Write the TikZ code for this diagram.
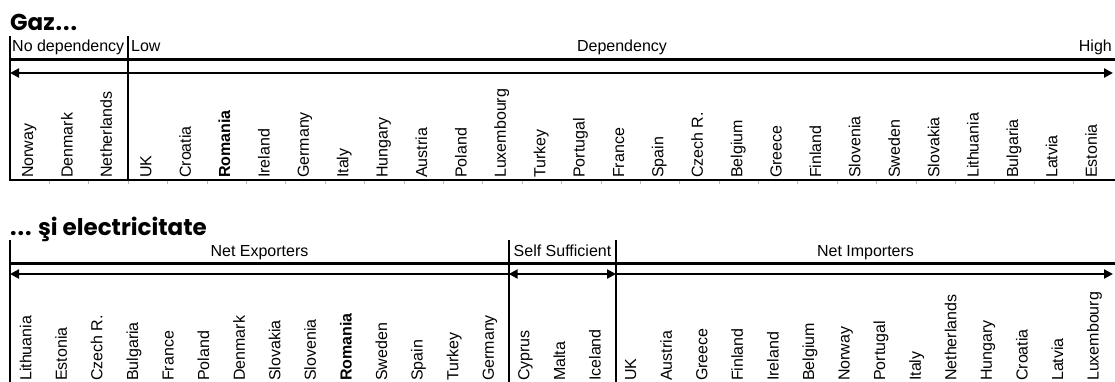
\documentclass[tikz,border=0pt]{standalone}
\usepackage{fontspec}
\setmainfont{Liberation Sans}
\newfontfamily\titlefont{Poppins}
\usetikzlibrary{arrows.meta}
\begin{document}
\begin{tikzpicture}[x=1pt,y=-1pt,
  lbl/.style={font=\fontsize{16}{19}\selectfont, inner sep=0pt},
  cty/.style={lbl, rotate=90, anchor=base west},
  hdr/.style={lbl, anchor=base},
  ttl/.style={font=\titlefont\bfseries\fontsize{23}{27}\selectfont, inner sep=0pt, anchor=base west},
  band/.style={line width=3pt},
  frame/.style={line width=2pt},
  tick/.style={gray!55, line width=0.8pt},
  arr/.style={line width=2.5pt},
  tip/.tip={Triangle[length=9pt,width=9pt]}]
\useasboundingbox (0,0) rectangle (1115,381);
\clip (0,0) rectangle (1115,381);

% ---------- Gaz ----------
\node[ttl] (t1) at (10,30.5) {Gaz{\kern1pt}.{\kern1pt}.{\kern1pt}.};
\coordinate (a1) at (10,36);  \coordinate (a2) at (10,180);
\coordinate (b1) at (128.2,36); \coordinate (b2) at (128.2,180);
\coordinate (h1) at (10,59); \coordinate (h2) at (1115,59);
\coordinate (r1) at (10,73); \coordinate (r2) at (1113,73);
\coordinate (f1) at (9,180); \coordinate (f2) at (1115,180);
\draw[frame] (a1) -- (a2);
\draw[frame] (b1) -- (b2);
\draw[band] (h1) -- (h2);
\draw[arr, tip-tip] (r1) -- (r2);
\draw[frame] (f1) -- (f2);
\foreach \k in {1,...,27} \draw[tick] ({10+39.393*\k},181) -- ++(0,2.5);

\node[hdr, anchor=base west] (nd) at (12,51.5) {No dependency};
\node[hdr, anchor=base west] (lo) at (131,51.5) {Low};
\node[hdr] (dp) at (622,51.5) {Dependency};
\node[hdr, anchor=base east] (hi) at (1112,51.5) {High};

\foreach \name [count=\i from 0] in {Norway,Denmark,Netherlands,UK,Croatia,{\textbf{Romania}},Ireland,Germany,Italy,Hungary,Austria,Poland,Luxembourg,Turkey,Portugal,France,Spain,Czech R.,Belgium,Greece,Finland,Slovenia,Sweden,Slovakia,Lithuania,Bulgaria,Latvia,Estonia}
  \node[cty] (g\i) at ({10+39.393*(\i+0.5)+3.5},178) {\name};

% ---------- electricitate ----------
\node[ttl] (t2) at (10,235) {.{\kern1pt}.{\kern1pt}. şi electricitate};
\coordinate (c1) at (10,240);  \coordinate (c2) at (10,385);
\coordinate (d1) at (508.7,240); \coordinate (d2) at (508.7,385);
\coordinate (e1) at (616,240); \coordinate (e2) at (616,385);
\coordinate (k1) at (10,263); \coordinate (k2) at (1115,263);
\coordinate (s1) at (10,274); \coordinate (s2) at (508.7,274);
\coordinate (s3) at (616,274); \coordinate (s4) at (1113,274);
\draw[frame] (c1) -- (c2);
\draw[frame] (d1) -- (d2);
\draw[frame] (e1) -- (e2);
\draw[band] (k1) -- (k2);
\draw[arr, tip-] (s1) -- (s2);
\draw[arr, tip-tip] (s2) -- (s3);
\draw[arr, -tip] (s3) -- (s4);

\node[hdr] (ne) at (259.5,256.5) {Net Exporters};
\node[hdr] (ss) at (562.5,256.5) {Self Sufficient};
\node[hdr] (ni) at (865.5,256.5) {Net Importers};

\foreach \name [count=\i from 0] in {Lithuania,Estonia,Czech R.,Bulgaria,France,Poland,Denmark,Slovakia,Slovenia,{\textbf{Romania}},Sweden,Spain,Turkey,Germany,Cyprus,Malta,Iceland,UK,Austria,Greece,Finland,Ireland,Belgium,Norway,Portugal,Italy,Netherlands,Hungary,Croatia,Latvia,Luxembourg}
  \node[cty] (e\i) at ({10+35.581*(\i+0.5)+3.5},381) {\name};
\end{tikzpicture}
\end{document}
